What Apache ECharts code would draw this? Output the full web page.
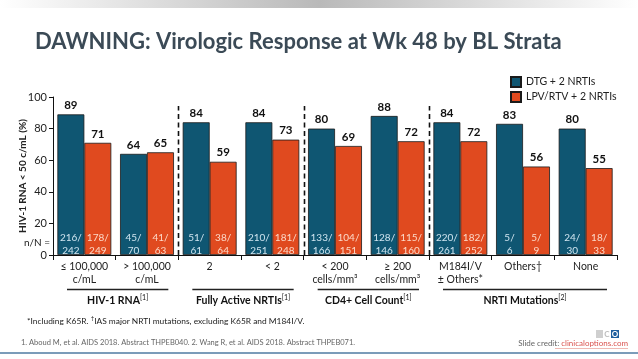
<!DOCTYPE html>
<html><head><meta charset="utf-8">
<script src="https://cdn.jsdelivr.net/npm/echarts@6/dist/echarts.min.js"></script>
<style>html,body{margin:0;padding:0;background:#fff}#c{width:638px;height:359px}</style>
</head><body><div id="c"></div>
<script>
const categories = ['≤ 100,000\nc/mL', '> 100,000\nc/mL', '2', '< 2', '< 200\ncells/mm³', '≥ 200\ncells/mm³', 'M184I/V\n± Others*', 'Others†', 'None'];
const seriesNames = ['DTG + 2 NRTIs', 'LPV/RTV + 2 NRTIs'];
const dtgValues = [89, 64, 84, 84, 80, 88, 84, 83, 80];
const lpvValues = [71, 65, 59, 73, 69, 72, 72, 56, 55];
const dtgCounts = ['216/\n242', '45/\n70', '51/\n61', '210/\n251', '133/\n166', '128/\n146', '220/\n261', '5/\n6', '24/\n30'];
const lpvCounts = ['178/\n249', '41/\n63', '38/\n64', '181/\n248', '104/\n151', '115/\n160', '182/\n252', '5/\n9', '18/\n33'];
const groupNames = [['HIV-1 RNA', '[1]'], ['Fully Active NRTIs', '[1]'], ['CD4+ Cell Count', '[1]'], ['NRTI Mutations', '[2]']];
const groupSpans = [[0, 1], [2, 3], [4, 5], [6, 8]];
const yTicks = {min: 0, max: 100, interval: 20};

const FONT = 'Lato';
const BLUE = '#0f5672';
const ORANGE = '#e04a1f';
const chart = echarts.init(document.getElementById('c'));

function countMarks(counts, color) {
  return {
    symbol: 'rect', symbolSize: 0, silent: true,
    label: {show: true, position: 'inside', offset: [0, -11], formatter: p => p.name,
      color: color, fontFamily: FONT, fontSize: 10, lineHeight: 13},
    data: counts.map((c, i) => ({name: c, coord: [i, 0]}))
  };
}

chart.setOption({
  animation: false,
  grid: {left: 53, right: 21, top: 97, bottom: 104},
  legend: {
    left: 505, top: 71, orient: 'vertical', itemWidth: 10, itemHeight: 10, itemGap: 3,
    icon: 'rect', textStyle: {fontFamily: FONT, fontSize: 10.5, color: '#222'},
    data: seriesNames
  },
  xAxis: {
    type: 'category', data: categories,
    axisLine: {lineStyle: {color: '#111', width: 1}},
    axisTick: {show: true, length: 5, lineStyle: {color: '#111'}},
    axisLabel: {fontFamily: FONT, fontSize: 10.5, color: '#222', lineHeight: 13, margin: 5, interval: 0}
  },
  yAxis: {
    type: 'value', min: yTicks.min, max: yTicks.max, interval: yTicks.interval,
    name: 'HIV-1 RNA < 50 c/mL (%)', nameLocation: 'middle', nameGap: 25, nameRotate: 90,
    nameMoveOverlap: false,
    nameTextStyle: {fontFamily: FONT, fontSize: 10, fontWeight: 'bold', color: '#222'},
    axisLine: {show: true, lineStyle: {color: '#111'}},
    axisTick: {show: true, length: 4, lineStyle: {color: '#111'}},
    splitLine: {show: false},
    axisLabel: {fontFamily: FONT, fontSize: 11, color: '#222', margin: 6}
  },
  series: [
    {name: seriesNames[0], type: 'bar', data: dtgValues, barGap: '0%', barCategoryGap: '14%',
      itemStyle: {color: BLUE, borderColor: '#1a1a1a', borderWidth: 0.8},
      label: {show: true, position: 'top', distance: 3, fontFamily: FONT, fontWeight: 'bold', fontSize: 11.5, color: '#111'},
      markPoint: countMarks(dtgCounts, '#cfe4ef')},
    {name: seriesNames[1], type: 'bar', data: lpvValues,
      itemStyle: {color: ORANGE, borderColor: '#1a1a1a', borderWidth: 0.8},
      label: {show: true, position: 'top', distance: 3, fontFamily: FONT, fontWeight: 'bold', fontSize: 11.5, color: '#111'},
      markPoint: countMarks(lpvCounts, '#fcd9c8')}
  ]
});

const px = i => chart.convertToPixel({xAxisIndex: 0}, i);
const py = v => chart.convertToPixel({yAxisIndex: 0}, v);
const half = (px(1) - px(0)) / 2;
const g = [];
g.push({type: 'rect', shape: {x: 0, y: 0, width: 638, height: 8},
  style: {fill: new echarts.graphic.LinearGradient(0, 0, 1, 0, [
    {offset: 0, color: '#ffffff'}, {offset: 0.5, color: '#b9b9b9'}, {offset: 1, color: '#ffffff'}])}});
g.push({type: 'text', x: 35, y: 42, style: {text: 'DAWNING: Virologic Response at Wk 48 by BL Strata',
  font: 'bold 22px ' + FONT, fill: '#3b4a56', verticalAlign: 'middle'}});
g.push({type: 'text', x: 50, y: 243, style: {text: 'n/N =', font: '10px ' + FONT, fill: '#222', align: 'right', verticalAlign: 'middle'}});
[1, 3, 5].forEach(i => {
  const x = Math.round(px(i) + half) + 0.5;
  g.push({type: 'line', shape: {x1: x, y1: py(0), x2: x, y2: 106},
    style: {stroke: '#111', lineWidth: 1.6, lineDash: [5, 3.5]}});
});
groupSpans.forEach((s, k) => {
  const x1 = px(s[0]) - half + 14, x2 = px(s[1]) + half - 10;
  g.push({type: 'line', shape: {x1: x1, y1: 289.5, x2: x2, y2: 289.5}, style: {stroke: '#222', lineWidth: 1.5}});
  g.push({type: 'text', x: (x1 + x2) / 2, y: 301, style: {
    text: '{b|' + groupNames[k][0] + '}{s|' + groupNames[k][1] + '}',
    align: 'center', verticalAlign: 'middle',
    rich: {b: {font: 'bold 10.5px ' + FONT, fill: '#111'}, s: {font: '7px ' + FONT, fill: '#111', verticalAlign: 'top', padding: [0, 0, 6, 0]}}}});
});
g.push({type: 'text', x: 27, y: 321, style: {
  text: '{a|*Including K65R. }{s|†}{a|IAS major NRTI mutations, excluding K65R and M184I/V.}', verticalAlign: 'middle',
  rich: {a: {font: '8.4px ' + FONT, fill: '#222'}, s: {font: '6px ' + FONT, fill: '#222', padding: [0, 0, 5, 0]}}}});
g.push({type: 'text', x: 21, y: 343, style: {
  text: '1. Aboud M, et al. AIDS 2018. Abstract THPEB040. 2. Wang R, et al. AIDS 2018. Abstract THPEB071.',
  font: '7.5px ' + FONT, fill: '#666', verticalAlign: 'middle'}});
g.push({type: 'text', x: 628, y: 343, style: {
  text: '{a|Slide credit: }{l|clinicaloptions.com}', align: 'right', verticalAlign: 'middle',
  rich: {a: {font: '8px ' + FONT, fill: '#666'}, l: {font: '8px ' + FONT, fill: '#d9534f'}}}});
g.push({type: 'line', shape: {x1: 555, y1: 348.5, x2: 628, y2: 348.5}, style: {stroke: '#e58a80', lineWidth: 0.6}});
g.push({type: 'rect', shape: {x: 596, y: 330, width: 7, height: 8}, style: {fill: '#cfcfcf'}});
g.push({type: 'text', x: 607, y: 334, style: {text: 'C', font: 'bold 8px ' + FONT, fill: '#bdbdbd', align: 'center', verticalAlign: 'middle'}});
g.push({type: 'rect', shape: {x: 611, y: 330, width: 8, height: 8}, style: {fill: '#1f5f9e'}});
g.push({type: 'text', x: 615, y: 334, style: {text: 'O', font: 'bold 8px ' + FONT, fill: '#ffffff', align: 'center', verticalAlign: 'middle'}});
g.push({type: 'rect', shape: {x: 0, y: 352, width: 638, height: 2}, style: {fill: '#7b9cb9'}});
chart.setOption({graphic: g});
</script></body></html>
